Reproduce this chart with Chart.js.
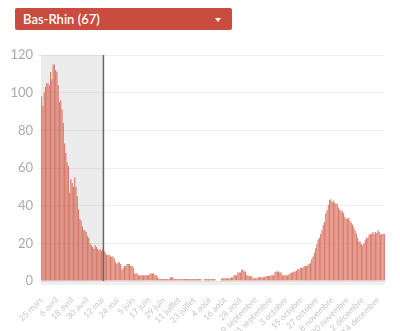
<!DOCTYPE html>
<html>
<head>
<meta charset="utf-8">
<script src="https://cdn.jsdelivr.net/npm/chart.js@4/dist/chart.umd.min.js"></script>
<style>
  body { margin: 0; background: #fff; width: 400px; height: 331px; overflow: hidden; font-family: Lato, sans-serif; }
  .select {
    position: absolute; left: 15px; top: 8px; width: 217px; height: 22px;
    background: #c94c3e; border-radius: 2px; color: #fff;
    font: 600 13px Lato, sans-serif; line-height: 22px; box-sizing: border-box; padding-left: 8px;
  }
  .select .caret {
    position: absolute; right: 11px; top: 10px; width: 0; height: 0;
    border-left: 3px solid transparent; border-right: 3px solid transparent; border-top: 4px solid #fff;
  }
  .wrap { position: absolute; left: 0; top: 40px; width: 400px; height: 291px; }
</style>
</head>
<body>
<div class="select">Bas-Rhin (67)<span class="caret"></span></div>
<div class="wrap"><canvas id="myChart"></canvas></div>
<script>
// daily values, starting 25 mars
let firstWave = [98, 93, 100, 103, 105, 105, 104, 111, 107, 115,
    115, 112, 111, 104, 95, 96, 91, 84, 73, 68,
    63, 61, 47, 54, 52, 50, 55, 50, 45, 38,
    33, 32, 29, 27, 27, 26, 24, 23, 20, 19,
    18, 17, 19, 18, 17, 16, 17, 16, 17];
let summer = [16, 15, 14, 14, 14, 13, 13, 13, 12, 10,
    9, 10, 10, 9, 6, 7, 8, 8, 9, 9,
    9, 8, 8, 7, 4, 4, 4, 3, 3, 3,
    3, 3, 3, 3, 3, 3, 4, 4, 4, 4,
    3, 3, 2, 1, 1, 1, 1, 1, 1, 1,
    1, 1, 2, 2, 2, 1, 1, 1, 1, 1,
    1, 1, 1, 1, 1, 1, 1, 1, 1, 1,
    1, 1, 1, 1, 1, 1, 1, 0, 0, 1,
    1, 1, 1, 1, 1, 1, 1, 1, 0, 0,
    0, 0, 1, 1.5, 1.5, 1.5, 1.5, 1.5, 1.5, 1.5,
    2, 2, 3, 3, 3, 4.5, 4.5, 4.5, 6, 6,
    5, 5, 3, 3, 2.5, 2.5, 2.5, 1.5, 1.5, 1.5,
    1.5, 2, 2, 2, 2, 2, 2, 2.7, 2.7, 2.7,
    2.7, 3, 3, 3, 4.5, 5, 5, 5, 4.5, 4.5,
    3, 3, 3, 3, 3, 3.5];
let secondWave = [4, 4.5, 4.5, 5, 5, 5.5, 6.5, 6, 7, 7,
    7, 7.8, 8, 8, 8.5, 9, 9.7, 11.6, 13, 15,
    17.4, 19.6, 22, 23, 25, 27, 29.7, 31.5, 36, 37.6,
    40.4, 43, 43.4, 42, 42.6, 41.5, 41, 41, 39, 38,
    37.3, 37, 36, 34, 33, 33, 33.6, 32, 31, 30,
    28.6, 27, 25.2, 23, 21, 21, 19.6, 19, 20, 21.6,
    23, 23, 24.6, 25, 25, 26, 25, 26, 25.5, 27,
    26, 24.6, 25, 25, 25];
let values = firstWave.concat(summer, secondWave);

let months = ['janvier', 'février', 'mars', 'avril', 'mai', 'juin', 'juillet',
    'août', 'septembre', 'octobre', 'novembre', 'décembre'];
let yTicks = [0, 20, 40, 60, 80, 100, 120];
let deconfIndex = 48; // 12 mai

let labels = [];
for (let i = 0; i < values.length; i++) {
    let d = new Date(2020, 2, 25 + i);
    labels.push(d.getDate() + ' ' + months[d.getMonth()]);
}

let confinement = {
    id: 'confinement',
    beforeDraw(chart) {
        let c = chart.ctx, a = chart.chartArea, x = chart.scales.x;
        let lineX = (x.getPixelForValue(deconfIndex) + x.getPixelForValue(deconfIndex + 1)) / 2;
        c.save();
        c.fillStyle = '#ececec';
        c.fillRect(a.left, a.top, lineX - a.left, a.bottom - a.top);
        c.fillStyle = '#efefef';
        c.fillRect(a.left, a.bottom, a.right - a.left, 4);
        c.restore();
    },
    afterDatasetsDraw(chart) {
        let c = chart.ctx, a = chart.chartArea, x = chart.scales.x;
        let lineX = (x.getPixelForValue(deconfIndex) + x.getPixelForValue(deconfIndex + 1)) / 2;
        c.save();
        c.strokeStyle = '#666';
        c.lineWidth = 1.5;
        c.beginPath();
        c.moveTo(lineX, a.top);
        c.lineTo(lineX, a.bottom);
        c.stroke();
        c.restore();
    }
};

let ctx = document.getElementById('myChart').getContext('2d');
let myChart = new Chart(ctx, {
    type: 'bar',
    data: {
        labels: labels,
        datasets: [{
            data: values,
            backgroundColor: 'rgba(212, 96, 78, 0.82)',
            barPercentage: 0.9,
            categoryPercentage: 1
        }]
    },
    options: {
        responsive: true,
        maintainAspectRatio: false,
        animation: false,
        layout: { padding: { top: 15, right: 15 } },
        plugins: { legend: { display: false }, tooltip: { enabled: false } },
        scales: {
            x: {
                grid: { display: false },
                border: { display: false },
                afterFit(s) { s.height = 50; },
                ticks: {
                    autoSkip: false,
                    minRotation: 45,
                    maxRotation: 45,
                    padding: 6,
                    color: '#c6c6c6',
                    font: { family: 'Lato', size: 8.5 },
                    callback(val, i) { return i % 12 === 0 ? this.getLabelForValue(val) : null; }
                }
            },
            y: {
                min: 0,
                max: 120,
                afterFit(s) { s.width = 41; },
                afterBuildTicks(s) { s.ticks = yTicks.map(v => ({ value: v })); },
                border: { display: false },
                grid: { color: 'rgba(0,0,0,0.06)', tickLength: 3 },
                ticks: {
                    color: '#aaa',
                    padding: 5,
                    font: { family: 'Lato', size: 13 }
                }
            }
        }
    },
    plugins: [confinement]
});
</script>
</body>
</html>
